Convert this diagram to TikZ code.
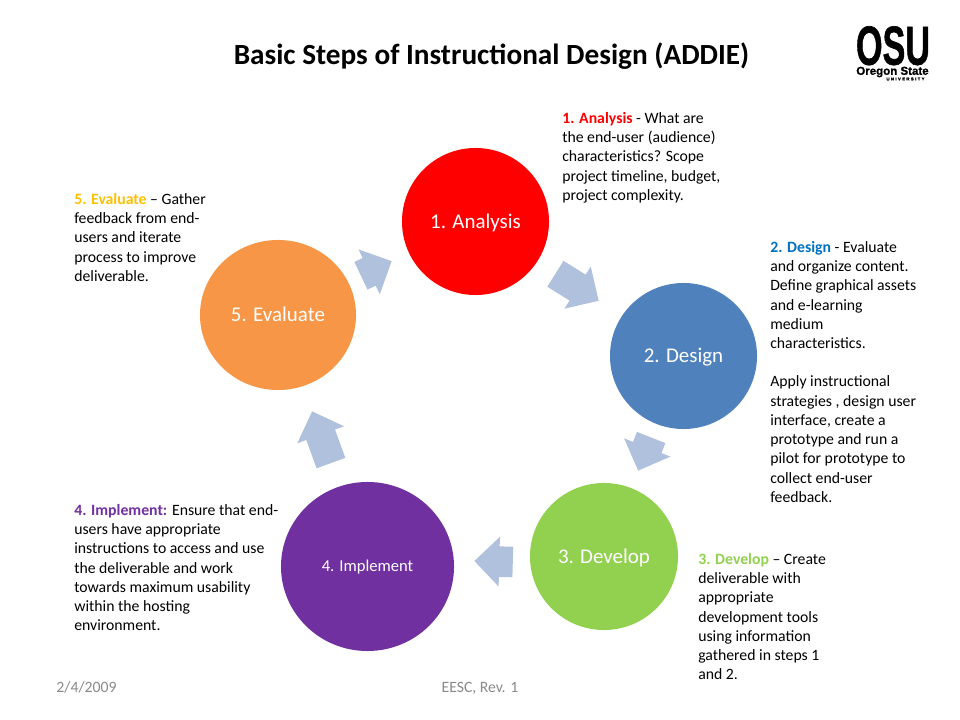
\documentclass[tikz,border=0pt]{standalone}
\usepackage{fontspec}
\setmainfont{Carlito}
\newfontfamily\logofont[BoldFeatures={FakeBold=1.2}]{Liberation Sans}
\usetikzlibrary{shapes.arrows, shapes.geometric}
\definecolor{flowblue}{HTML}{B0C1DD}
\definecolor{analysisred}{HTML}{FF0000}
\definecolor{designblue}{HTML}{4F81BD}
\definecolor{designtext}{HTML}{0070C0}
\definecolor{developgreen}{HTML}{92D050}
\definecolor{implementpurple}{HTML}{7030A0}
\definecolor{evaluateorange}{HTML}{F79646}
\definecolor{evaluatetext}{HTML}{FFC000}
\definecolor{footgray}{HTML}{898989}
\tikzset{
    stage/.style={ellipse, inner sep=0, text=white, text depth=1pt, font=\fontsize{14.9}{16}\selectfont},
    flow/.style={single arrow, anchor=tip, fill=flowblue, inner xsep=0, inner ysep=.375cm, single arrow head extend=.24cm},
    note/.style={anchor=north west, align=left, inner sep=0, font=\fontsize{11.2}{13.68}\selectfont},
    foot/.style={text=footgray, inner sep=0, font=\fontsize{11.2}{13}\selectfont}
}

\begin{document}
\begin{tikzpicture}[x=.025cm, y=-.025cm]
    \useasboundingbox (0, 0) rectangle (960, 720);

    \node (title) at (491.5, 56) [inner sep=0, font=\fontsize{20.8}{24}\selectfont\bfseries] {Basic Steps of Instructional Design (ADDIE)};

    \node (logo) at (893, 45.5) [inner sep=0, text depth=0, xscale=.9, yscale=1.45, font=\fontsize{27}{27}\logofont\bfseries] {OSU};
    \node (logoa) at (892.5, 72) [inner sep=0, font=\fontsize{8.2}{9}\logofont\bfseries] {Oregon State};
    \node (logob) at (905.5, 79) [inner sep=0, font=\fontsize{3}{3}\logofont\bfseries] {U\,\,N\,\,I\,\,V\,\,E\,\,R\,\,S\,\,I\,\,T\,\,Y};

    \node (analysis) at (475.5, 221.5) [stage, fill=analysisred, minimum width=3.675cm, minimum height=3.675cm] {1. Analysis};
    \node (design) at (683.5, 356) [stage, fill=designblue, minimum width=3.675cm, minimum height=3.65cm] {2. Design};
    \node (develop) at (604, 556.5) [stage, fill=developgreen, minimum width=3.7cm, minimum height=3.675cm] {3. Develop};
    \node (implement) at (367.5, 566.5) [stage, fill=implementpurple, minimum width=4.325cm, minimum height=4.225cm, font=\fontsize{11.8}{13}\selectfont] {4. Implement};
    \node (evaluate) at (278, 315) [stage, fill=evaluateorange, minimum width=3.9cm, minimum height=3.75cm] {5. Evaluate};

    \node (flowa) at (599, 301) [flow, rotate=-32, minimum height=1.275cm] {};
    \node (flowb) at (638, 471) [flow, rotate=-111.5, minimum height=.89cm] {};
    \node (flowc) at (474, 561) [flow, rotate=178.5, minimum height=.96cm] {};
    \node (flowd) at (312, 411) [flow, rotate=110, minimum height=1.375cm] {};
    \node (flowe) at (392, 261) [flow, rotate=25.4, minimum height=.85cm] {};

    \node (notea) at (562, 112) [note] {\textcolor{analysisred}{\textbf{1. Analysis}} - What are\\the end-user (audience)\\characteristics? Scope\\project timeline, budget,\\project complexity.};
    \node (noteb) at (770, 241) [note] {\textcolor{designtext}{\textbf{2. Design}} - Evaluate\\and organize content.\\Define graphical assets\\and e-learning\\medium\\characteristics.\\[\baselineskip]Apply instructional\\strategies , design user\\interface, create a\\prototype and run a\\pilot for prototype to\\collect end-user\\feedback.};
    \node (notec) at (698, 553) [note] {\textcolor{developgreen}{\textbf{3. Develop}} -- Create\\deliverable with\\appropriate\\development tools\\using information\\gathered in steps 1\\and 2.};
    \node (noted) at (74, 504) [note] {\textcolor{implementpurple}{\textbf{4. Implement:}} Ensure that end-\\users have appropriate\\instructions to access and use\\the deliverable and work\\towards maximum usability\\within the hosting\\environment.};
    \node (notee) at (74, 193) [note] {\textcolor{evaluatetext}{\textbf{5. Evaluate}} -- Gather\\feedback from end-\\users and iterate\\process to improve\\deliverable.};

    \node (date) at (86.5, 687) [foot] {2/4/2009};
    \node (rev) at (480, 688) [foot] {EESC, Rev. 1};
\end{tikzpicture}
\end{document}
